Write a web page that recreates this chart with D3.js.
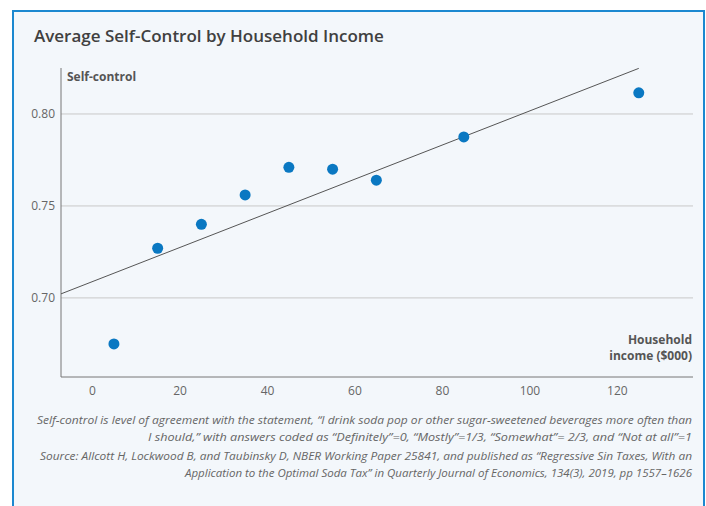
<!DOCTYPE html>
<html>
<head>
<meta charset="utf-8">
<script src="https://cdn.jsdelivr.net/npm/d3@7"></script>
<style>
	body { margin: 0; background: #fff; }
	svg { display: block; }
</style>
</head>
<body>
<div id="chart"></div>
<script>
// household income bracket midpoints ($000) and mean self-control score
let incomes = [5, 15, 25, 35, 45, 55, 65, 85, 125];
let selfControl = [0.675, 0.727, 0.740, 0.756, 0.771, 0.770, 0.764, 0.7875, 0.8115];

// fitted line, read as its two end points
let trendX = [-7.1, 125];
let trendY = [0.7022, 0.8248];

let xTicks = [0, 20, 40, 60, 80, 100, 120];
let yTicks = [0.70, 0.75, 0.80];

let notes = [
	"Self-control is level of agreement with the statement, \u201cI drink soda pop or other sugar-sweetened beverages more often than",
	"I should,\u201d with answers coded as \u201cDefinitely\u201d=0, \u201cMostly\u201d=1/3, \u201cSomewhat\u201d= 2/3, and \u201cNot at all\u201d=1",
	"Source: Allcott H, Lockwood B, and Taubinsky D, NBER Working Paper 25841, and published as \u201cRegressive Sin Taxes, With an",
	"Application to the Optimal Soda Tax\u201d in Quarterly Journal of Economics, 134(3), 2019, pp 1557\u20131626"
];

let width = 706;
let height = 506;
let font = "'Source Sans Pro', 'Open Sans', 'Noto Sans', sans-serif";

const svg = d3.select('#chart')
	.append('svg')
	.attr('width', width)
	.attr('height', height);

// panel with blue border
svg.append('rect')
	.attr('x', 13)
	.attr('y', 11)
	.attr('width', 691)
	.attr('height', 520)
	.attr('fill', '#f3f7fb')
	.attr('stroke', '#1b88d0')
	.attr('stroke-width', 2);

svg.append('text')
	.attr('x', 34)
	.attr('y', 42)
	.attr('fill', '#404040')
	.style('font', `600 17px ${font}`)
	.text('Average Self-Control by Household Income');

let plotLeft = 61, plotRight = 693, plotTop = 68, plotBottom = 377;

let x = d3.scaleLinear()
	.domain([-7.1, 137.4])
	.range([plotLeft, plotRight]);

let y = d3.scaleLinear()
	.domain([0.657, 0.825])
	.range([plotBottom, plotTop]);

// gridlines
svg.append('g')
	.selectAll('line')
	.data(yTicks)
	.join('line')
	.attr('x1', plotLeft)
	.attr('x2', plotRight)
	.attr('y1', d => y(d))
	.attr('y2', d => y(d))
	.attr('stroke', '#c8c8c8')
	.attr('stroke-width', 1);

// y axis
const yAxis = svg.append('g')
	.attr('transform', `translate(${plotLeft},0)`)
	.call(d3.axisLeft(y).tickValues(yTicks).tickFormat(d3.format('.2f')).tickSize(0).tickPadding(6));
yAxis.select('.domain').attr('stroke', '#777').attr('d', `M0,${plotTop}V${plotBottom}`);
yAxis.selectAll('text').attr('fill', '#666').style('font', `12px ${font}`);

// x axis
const xAxis = svg.append('g')
	.attr('transform', `translate(0,${plotBottom})`)
	.call(d3.axisBottom(x).tickValues(xTicks).tickSize(0).tickPadding(9));
xAxis.select('.domain').attr('stroke', '#777').attr('d', `M${plotLeft},0H${plotRight}`);
xAxis.selectAll('text').attr('fill', '#666').style('font', `12px ${font}`);

svg.append('text')
	.attr('x', 67)
	.attr('y', 81)
	.attr('fill', '#555')
	.style('font', `bold 12px ${font}`)
	.text('Self-control');

svg.append('g')
	.attr('text-anchor', 'end')
	.attr('fill', '#555')
	.style('font', `bold 12px ${font}`)
	.selectAll('text')
	.data(['Household', 'income ($000)'])
	.join('text')
	.attr('x', 692)
	.attr('y', (d, i) => 344 + i * 16)
	.text(d => d);

// trend line
svg.append('line')
	.attr('x1', x(trendX[0]))
	.attr('y1', y(trendY[0]))
	.attr('x2', x(trendX[1]))
	.attr('y2', y(trendY[1]))
	.attr('stroke', '#555')
	.attr('stroke-width', 1);

// points
svg.append('g')
	.attr('fill', '#0a78c2')
	.selectAll('circle')
	.data(incomes)
	.join('circle')
	.attr('cx', d => x(d))
	.attr('cy', (d, i) => y(selfControl[i]))
	.attr('r', 5.5);

// footnotes, fitted to the line widths of the original
let noteWidths = [655, 544, 652, 507];
svg.append('g')
	.attr('fill', '#666')
	.attr('text-anchor', 'end')
	.style('font', `italic 11.5px ${font}`)
	.selectAll('text')
	.data(notes)
	.join('text')
	.attr('x', 692)
	.attr('y', (d, i) => [424, 441, 460, 477][i])
	.attr('textLength', (d, i) => noteWidths[i])
	.attr('lengthAdjust', 'spacingAndGlyphs')
	.text(d => d);
</script>
</body>
</html>
